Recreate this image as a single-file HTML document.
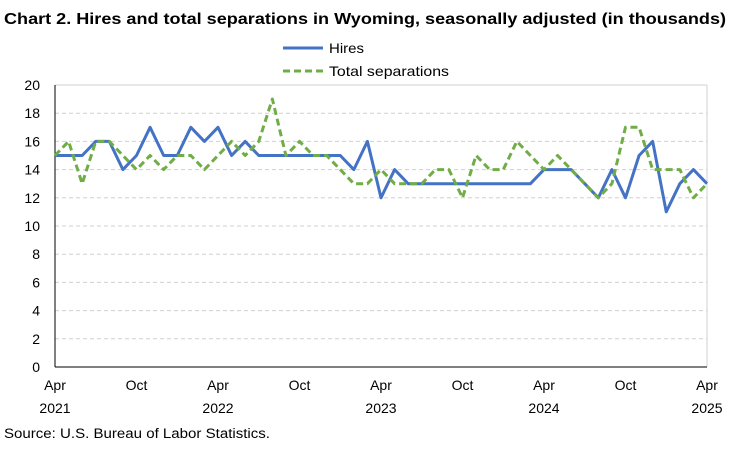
<!DOCTYPE html>
<html><head><meta charset="utf-8"><style>
body{margin:0;background:#fff;font-family:"Liberation Sans",sans-serif;}
svg text{font-family:"Liberation Sans",sans-serif;fill:#000;}
</style></head><body>
<svg width="750" height="445">
<text x="4" y="24" font-size="16" font-weight="bold" textLength="722" lengthAdjust="spacingAndGlyphs">Chart 2. Hires and total separations in Wyoming, seasonally adjusted (in thousands)</text>
<g>
<line x1="283" y1="48" x2="323" y2="48" stroke="#4472C4" stroke-width="3"/>
<text x="329" y="53" font-size="14" textLength="35" lengthAdjust="spacingAndGlyphs">Hires</text>
<line x1="283" y1="71" x2="323" y2="71" stroke="#70AD47" stroke-width="3" stroke-dasharray="7,4"/>
<text x="329" y="76" font-size="14" textLength="120" lengthAdjust="spacingAndGlyphs">Total separations</text>
</g>
<g id="grid"></g><g id="axes"></g><g id="series"></g>
<text x="4" y="438" font-size="13.5" textLength="266" lengthAdjust="spacingAndGlyphs">Source: U.S. Bureau of Labor Statistics.</text>
</svg>
<script>
const hires=[15,15,15,16,16,14,15,17,15,15,17,16,17,15,16,15,15,15,15,15,15,15,14,16,12,14,13,13,13,13,13,13,13,13,13,13,14,14,14,13,12,14,12,15,16,11,13,14,13];
const separations=[15,16,13,16,16,15,14,15,14,15,15,14,15,16,15,16,19,15,16,15,15,14,13,13,14,13,13,13,14,14,12,15,14,14,16,15,14,15,14,13,12,13,17,17,14,14,14,12,13];
const yTicks=[0,2,4,6,8,10,12,14,16,18,20];
const xTickLabels=[["Apr","2021"],["Oct",""],["Apr","2022"],["Oct",""],["Apr","2023"],["Oct",""],["Apr","2024"],["Oct",""],["Apr","2025"]];
const NS="http://www.w3.org/2000/svg";
const L=55,R=707,T=85,B=367;
const n=hires.length;
const xs=i=>L+i*(R-L)/(n-1);
const ys=v=>B-v*(B-T)/20;
const grid=document.getElementById('grid'),axes=document.getElementById('axes'),ser=document.getElementById('series');
function mk(tag,attrs,parent){const e=document.createElementNS(NS,tag);for(const k in attrs)e.setAttribute(k,attrs[k]);parent.appendChild(e);return e;}
yTicks.forEach(v=>{
 if(v>0){const g=mk('line',{x1:L,x2:R,y1:ys(v),y2:ys(v),stroke:'#d0d0d0','stroke-dasharray':v===20?'':'4,3'},grid);
 
 }
 const t=mk('text',{x:40,y:ys(v)+5,'font-size':14,'text-anchor':'end'},axes);t.textContent=v;
 
 
});
const rb=mk('line',{x1:R,x2:R,y1:T,y2:B,stroke:'#d0d0d0'},grid);


const ya=mk('line',{x1:L,x2:L,y1:T,y2:B,stroke:'#000'},axes);


const xa=mk('line',{x1:L,x2:R,y1:B,y2:B,stroke:'#000'},axes);


xTickLabels.forEach((lab,k)=>{
 const x=xs(k*6);
 const t=mk('text',{x:x,y:390,'font-size':14,'text-anchor':'middle'},axes);t.textContent=lab[0];
 
 
 if(lab[1]){const t2=mk('text',{x:x,y:413,'font-size':14,'text-anchor':'middle'},axes);t2.textContent=lab[1];
 
 }
});
function line(data,color,dash,name){
 const p=mk('polyline',{points:data.map((v,i)=>xs(i)+','+ys(v)).join(' '),fill:'none',stroke:color,'stroke-width':3,'stroke-linejoin':'round'},ser);
 if(dash)p.setAttribute('stroke-dasharray',dash);
 
 
}
line(hires,'#4472C4','','hires-line');
line(separations,'#70AD47','7,4','separations-line');
</script>
</body></html>
